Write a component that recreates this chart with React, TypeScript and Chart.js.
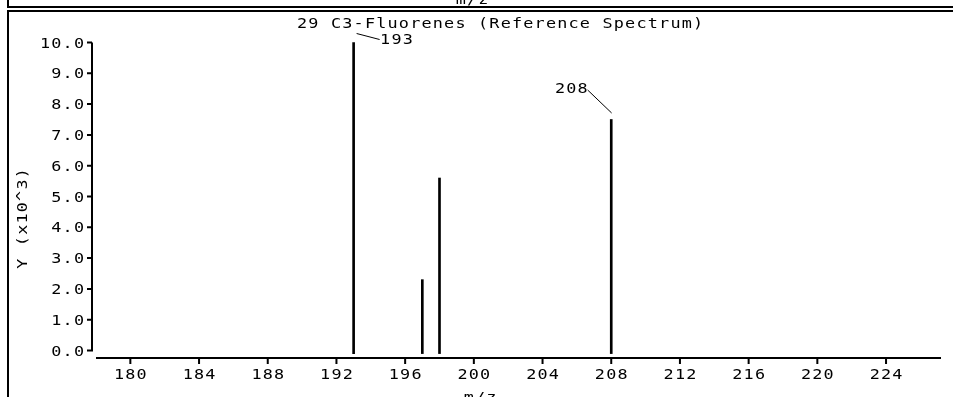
import React, { useEffect, useRef } from "react";
import { Chart, registerables } from "chart.js";

Chart.register(...registerables);

// ---- data ----
const masses = [193, 197, 198, 208];
const intensities = [10.0, 2.3, 5.6, 7.5];
const labeledMasses = [193, 208];
const xTickValues = [180, 184, 188, 192, 196, 200, 204, 208, 212, 216, 220, 224];
const yTickValues = [0, 1, 2, 3, 4, 5, 6, 7, 8, 9, 10];
const yTickLabels = ["0.0", "1.0", "2.0", "3.0", "4.0", "5.0", "6.0", "7.0", "8.0", "9.0", "10.0"];
const chartTitle = "29 C3-Fluorenes (Reference Spectrum)";
const yAxisTitle = "Y (x10^3)";
const xAxisTitle = "m/z";

const X_MIN = 178;
const X_MAX = 227.2;
const Y_MIN = 0;
const Y_MAX = 10;
const BASELINE = -0.1;

const FONT = '14px "DejaVu Sans Mono", "Liberation Mono", monospace';
const SX = 1.2; // horizontal stretch of the glyphs
const SP = 1.0; // letter spacing before stretch
const TRAIL = SP * SX;

type Ann = { tx: number; ty: number; align: "left" | "right"; l1: [number, number]; l2: [number, number] };
const annotationStyle: Record<number, Ann> = {
  193: { tx: 26.5, ty: 1.5, align: "left", l1: [3, -9], l2: [26, -3] },
  208: { tx: -23.6, ty: -26.5, align: "right", l1: [-23.6, -29.5], l2: [0.4, -6.5] },
};

const W = 953;
const H = 397;

function text(ctx: CanvasRenderingContext2D, s: string, x: number, y: number, align: "left" | "right" | "center") {
  ctx.save();
  let ox = x;
  if (align === "right") ox += TRAIL;
  if (align === "center") ox += TRAIL / 2;
  ctx.translate(ox, y);
  ctx.scale(SX, 1);
  ctx.textAlign = align;
  ctx.textBaseline = "alphabetic";
  ctx.fillText(s, 0, 0);
  ctx.restore();
}

const drawPlugin = {
  id: "spectrumDecor",
  beforeDraw(chart: any) {
    const ctx = chart.ctx;
    ctx.save();
    ctx.fillStyle = "#fff";
    ctx.fillRect(0, 0, chart.width, chart.height);
    ctx.restore();
  },
  afterDraw(chart: any) {
    const ctx = chart.ctx as CanvasRenderingContext2D;
    const xs = chart.scales.x;
    const ys = chart.scales.y;
    ctx.save();
    (ctx as any).letterSpacing = SP + "px";
    ctx.font = FONT;
    ctx.fillStyle = "#000";
    ctx.strokeStyle = "#000";
    ctx.lineWidth = 2;

    // frames
    ctx.beginPath();
    ctx.moveTo(8, 0);
    ctx.lineTo(8, 7);
    ctx.lineTo(W, 7);
    ctx.moveTo(W, 11);
    ctx.lineTo(8, 11);
    ctx.lineTo(8, H);
    ctx.stroke();

    // partial x title of panel above
    text(ctx, xAxisTitle, 472, 4, "center");

    // title
    text(ctx, chartTitle, 297, 28, "left");

    // y axis
    const yAxisX = xs.left - 4;
    const y0 = ys.getPixelForValue(Y_MIN);
    const y1 = ys.getPixelForValue(Y_MAX);
    ctx.beginPath();
    ctx.moveTo(yAxisX, y1);
    ctx.lineTo(yAxisX, y0 + 1);
    yTickValues.forEach((v) => {
      const py = ys.getPixelForValue(v);
      ctx.moveTo(yAxisX - 5, py);
      ctx.lineTo(yAxisX, py);
    });
    ctx.stroke();
    yTickValues.forEach((v, i) => {
      const py = ys.getPixelForValue(v);
      text(ctx, yTickLabels[i], yAxisX - 8, py + 5, "right");
    });

    // x axis
    const xAxisY = ys.bottom + 7.5;
    ctx.beginPath();
    ctx.moveTo(xs.left, xAxisY);
    ctx.lineTo(xs.right, xAxisY);
    xTickValues.forEach((v) => {
      const px = xs.getPixelForValue(v);
      ctx.moveTo(px, xAxisY);
      ctx.lineTo(px, xAxisY + 6);
    });
    ctx.stroke();
    xTickValues.forEach((v) => {
      const px = xs.getPixelForValue(v);
      text(ctx, String(v), px, xAxisY + 21, "center");
    });

    // x title (cut at bottom)
    text(ctx, xAxisTitle, 480, xAxisY + 44, "center");

    // y title
    ctx.save();
    ctx.translate(27, (y0 + y1) / 2 + 22);
    ctx.rotate(-Math.PI / 2);
    text(ctx, yAxisTitle, 0, 0, "center");
    ctx.restore();

    // peak annotations
    ctx.lineWidth = 1;
    labeledMasses.forEach((m) => {
      const idx = masses.indexOf(m);
      const a = annotationStyle[m];
      const px = xs.getPixelForValue(m);
      const py = ys.getPixelForValue(intensities[idx]);
      ctx.beginPath();
      ctx.moveTo(px + a.l1[0], py + a.l1[1]);
      ctx.lineTo(px + a.l2[0], py + a.l2[1]);
      ctx.stroke();
      text(ctx, String(m), px + a.tx, py + a.ty, a.align);
    });

    ctx.restore();
  },
};

export default function App() {
  const ref = useRef<HTMLCanvasElement | null>(null);
  useEffect(() => {
    if (!ref.current) return;
    const chart = new Chart(ref.current, {
      type: "bar",
      data: {
        datasets: [
          {
            data: masses.map((m, i) => ({ x: m, y: intensities[i] })),
            backgroundColor: "#000",
            borderWidth: 0,
            barThickness: 2,
            base: BASELINE,
            clip: false,
          } as any,
        ],
      },
      options: {
        animation: false,
        responsive: false,
        devicePixelRatio: 1,
        layout: { padding: { left: 96, right: W - 941, top: 42.5, bottom: H - 350.5 } },
        plugins: { legend: { display: false }, tooltip: { enabled: false }, title: { display: false } },
        scales: {
          x: { type: "linear", min: X_MIN, max: X_MAX, offset: false, display: false },
          y: { type: "linear", min: Y_MIN, max: Y_MAX, display: false },
        },
      } as any,
      plugins: [drawPlugin],
    });
    return () => chart.destroy();
  }, []);
  return (
    <div style={{ position: "absolute", left: 0, top: 0, width: W, height: H, background: "#fff" }}>
      <canvas ref={ref} width={W} height={H} style={{ width: W, height: H, display: "block" }} />
    </div>
  );
}
